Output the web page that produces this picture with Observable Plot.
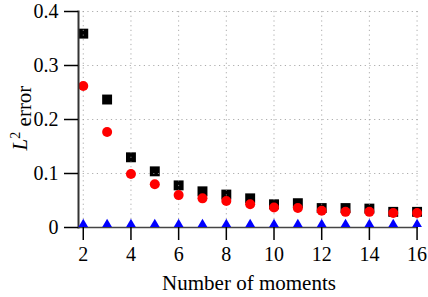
<!DOCTYPE html>
<html><head><meta charset="utf-8">
<script src="https://cdn.jsdelivr.net/npm/d3@7"></script>
<script src="https://cdn.jsdelivr.net/npm/@observablehq/plot@0.6"></script>
<style>body{margin:0;background:#fff}</style>
</head><body><div id="chart"></div>
<script>
const moments = [2,3,4,5,6,7,8,9,10,11,12,13,14,15,16];
const errSquare = [0.359,0.237,0.130,0.104,0.078,0.067,0.061,0.054,0.043,0.045,0.036,0.036,0.035,0.029,0.029];
const errCircle = [0.262,0.177,0.099,0.080,0.060,0.054,0.049,0.043,0.037,0.036,0.031,0.029,0.029,0.027,0.027];
const errTriangle = [0.006,0.006,0.006,0.006,0.006,0.006,0.006,0.006,0.006,0.006,0.006,0.006,0.006,0.006,0.006];
const xTicks = [2,4,6,8,10,12,14,16];
const yTicks = [0,0.1,0.2,0.3,0.4];
const xLabel = "Number of moments";

const sq = moments.map((m,i)=>({m, v: errSquare[i]}));
const ci = moments.map((m,i)=>({m, v: errCircle[i]}));
const tr = moments.map((m,i)=>({m, v: errTriangle[i]}));

const font = "'Liberation Serif', 'Times New Roman', serif";
const chart = Plot.plot({
  width: 428, height: 297,
  marginLeft: 78, marginRight: 10, marginTop: 11, marginBottom: 70,
  style: {fontFamily: font, fontSize: "20px", background: "white", color: "black"},
  x: {domain: [1.8, 16.06], axis: null},
  y: {domain: [0, 0.4], axis: null},
  marks: [
    Plot.dot(sq, {x: "m", y: "v", symbol: "square", r: 5.6, fill: "black", stroke: null}),
    Plot.gridX(xTicks, {stroke: "#999", strokeOpacity: 0.8, strokeWidth: 1, strokeDasharray: "1.2,3.5"}),
    Plot.gridY(yTicks.filter(d => d > 0), {stroke: "#999", strokeOpacity: 0.8, strokeWidth: 1, strokeDasharray: "1.2,3.5"}),
    Plot.dot(ci, {x: "m", y: "v", symbol: "circle", r: 5, fill: "#ff0000", stroke: null}),
    Plot.ruleY([0], {stroke: "#444", strokeWidth: 1.5}),
    Plot.frame({anchor: "left", stroke: "#333", strokeWidth: 2}),
    Plot.dot(tr, {x: "m", y: "v", symbol: "triangle", r: 3.6, fill: "#0000ff", stroke: null}),
    Plot.axisX(xTicks, {tickSize: 13, tickPadding: 6, label: null, fontSize: 20, strokeWidth: 1.5}),
    Plot.axisY(yTicks, {tickSize: 14, tickPadding: 6, label: null, fontSize: 20, strokeWidth: 1.5,
      tickFormat: d => d === 0 ? "0" : d.toFixed(1)})
  ]
});
const svg = d3.select(chart);
svg.append("text")
  .attr("x", 249).attr("y", 290)
  .attr("text-anchor", "middle")
  .style("font-family", font).style("font-size", "21px")
  .attr("fill", "black")
  .text(xLabel);
const yl = svg.append("text")
  .attr("transform", "translate(27,118) rotate(-90)")
  .attr("text-anchor", "middle")
  .style("font-family", font).style("font-size", "21px")
  .attr("fill", "black");
yl.append("tspan").style("font-style", "italic").text("L");
yl.append("tspan").attr("dy", "-0.5em").style("font-size", "14px").text("2");
yl.append("tspan").attr("dy", "0.5em").text(" error");
document.getElementById("chart").appendChild(chart);
</script>
</body></html>
